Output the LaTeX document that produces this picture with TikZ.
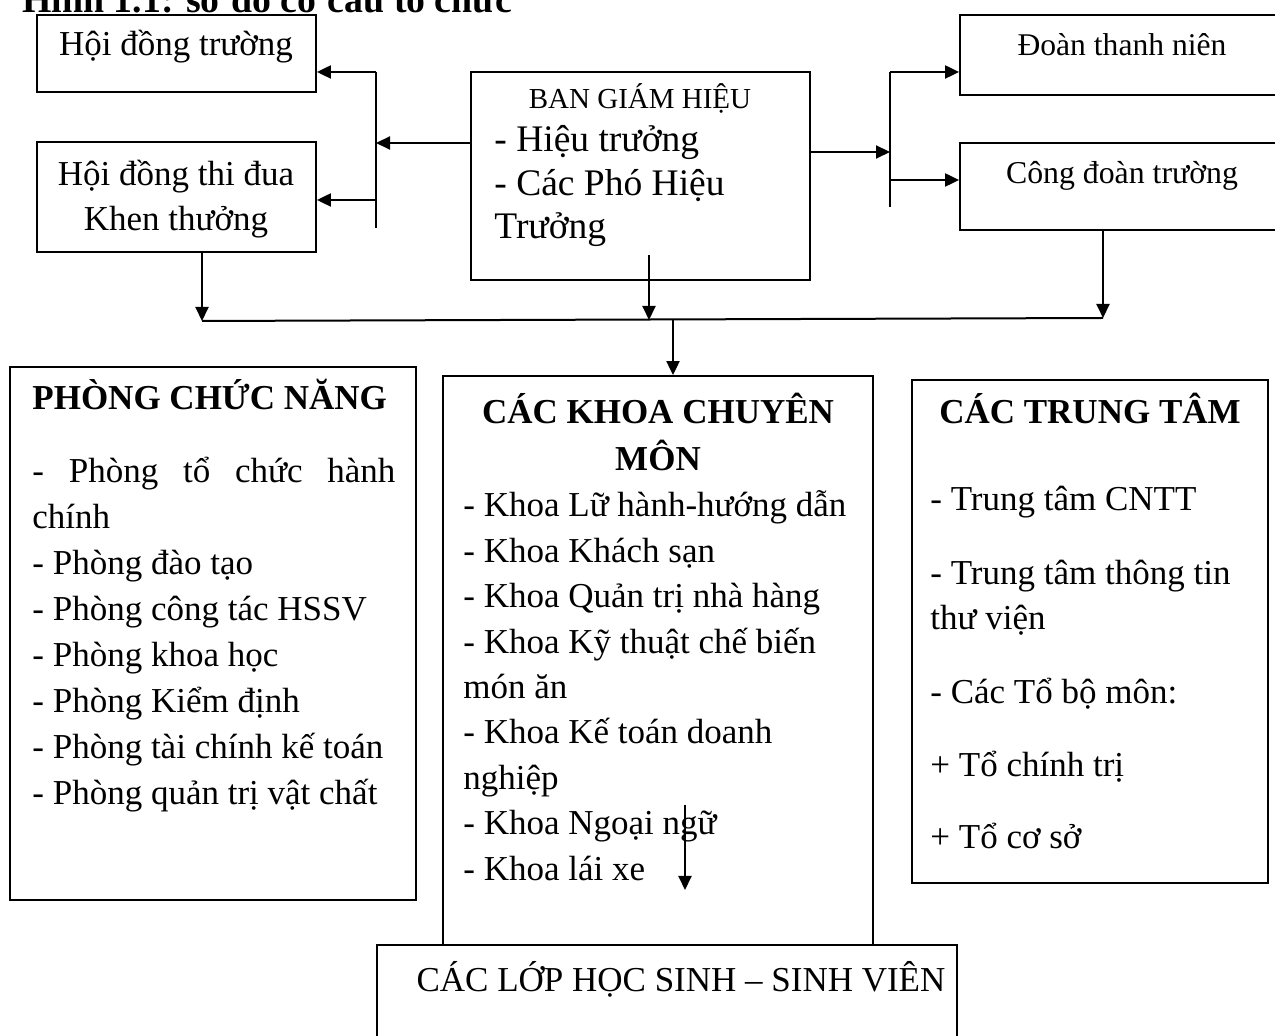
\documentclass[tikz,border=0pt]{standalone}
\usepackage{fontspec}
\setmainfont{Liberation Serif}
\usetikzlibrary{arrows.meta}

\begin{document}
\begin{tikzpicture}[
            x = 0.5pt, y = -0.5pt,
            box/.style = {draw, line width = 0.9pt, inner sep = 0pt},
            txt/.style = {anchor = base, inner sep = 0pt, font = \fontsize{17.5}{23}\selectfont},
            lst/.style = {anchor = base west, inner sep = 0pt, align = flush left, text width = #1,
                          font = \fontsize{17.5}{23}\selectfont},
            lst/.default = 180pt,
            head/.style = {txt, font = \fontsize{17.5}{23.5}\selectfont\bfseries},
            link/.style = {line width = 1pt},
            arr/.style = {link, -{Triangle[length = 7pt, width = 6.5pt]}}
            ]
            \useasboundingbox (0,0) rectangle (1275,1036);
            \node[anchor = base west, inner sep = 0pt, font = \fontsize{18.9}{22}\selectfont\bfseries]
                 (title) at (22,13) {Hình 1.1: sơ đồ cơ cấu tổ chức};

            % boxes
            \node[box, minimum width = 139.5pt, minimum height = 38.5pt] (hdt) at (176.5,53.5) {};
            \node[box, minimum width = 139.5pt, minimum height = 55pt] (hdtd) at (176.5,197) {};
            \node[box, minimum width = 169.5pt, minimum height = 104pt] (bgh) at (640.5,176) {};
            \node[box, minimum width = 165pt, minimum height = 40pt] (dtn) at (1125,55) {};
            \node[box, minimum width = 165pt, minimum height = 43.5pt] (cdt) at (1125,186.5) {};
            \node[box, minimum width = 203pt, minimum height = 266.5pt] (phong) at (213,633.5) {};
            \node[box, minimum width = 215pt, minimum height = 284.5pt] (khoa) at (658,660.5) {};
            \node[box, minimum width = 178pt, minimum height = 251.5pt] (trung) at (1090,631.5) {};
            \node[box, minimum width = 290pt, minimum height = 57.5pt] (lop) at (667,1002.5) {};

            % texts
            \node[txt] (hdt-t) at (176,56) {Hội đồng trường};
            \node[txt, align = flush center, text width = 130pt, font = \fontsize{17.5}{22.5}\selectfont]
                 (hdtd-t) at (176,186) {Hội đồng thi đua\\Khen thưởng};
            \node[txt, font = \fontsize{14.5}{17}\selectfont] (bgh-t) at (640,109) {BAN GIÁM HIỆU};
            \node[lst = 150pt, font = \fontsize{18.75}{21.75}\selectfont]
                 (bgh-l) at (494,152) {- Hiệu trưởng\\- Các Phó Hiệu\\Trưởng};
            \node[txt, font = \fontsize{15.8}{19}\selectfont] (dtn-t) at (1122,56) {Đoàn thanh niên};
            \node[txt, font = \fontsize{15.9}{19}\selectfont] (cdt-t) at (1122,184) {Công đoàn trường};

            \node[head, anchor = base west] (phong-h) at (32,410) {PHÒNG CHỨC NĂNG};
            \node[lst = 200pt] (phong-l) at (32,483)
                 {\hbox to 181.5pt{-\hfill Phòng\hfill tổ\hfill chức\hfill hành}\\chính\\- Phòng đào tạo\\
                  - Phòng công tác HSSV\\- Phòng khoa học\\- Phòng Kiểm định\\
                  - Phòng tài chính kế toán\\- Phòng quản trị vật chất};

            \node[head, align = flush center, text width = 205pt] (khoa-h) at (658,424) {CÁC KHOA CHUYÊN\\MÔN};
            \node[lst = 200pt, font = \fontsize{17.5}{22.7}\selectfont] (khoa-l) at (463,517)
                 {- Khoa Lữ hành-hướng dẫn\\- Khoa Khách sạn\\- Khoa Quản trị nhà hàng\\
                  - Khoa Kỹ thuật chế biến\\món ăn\\- Khoa Kế toán doanh\\nghiệp\\
                  - Khoa Ngoại ngữ\\- Khoa lái xe};

            \node[head] (trung-h) at (1090,424) {CÁC TRUNG TÂM};
            \node[lst = 165pt, font = \fontsize{17.5}{22.5}\selectfont] (trung-l) at (930,511)
                 {- Trung tâm CNTT\\[14.5pt]- Trung tâm thông tin\\thư viện\\[14.5pt]
                  - Các Tổ bộ môn:\\[14pt]+ Tổ chính trị\\[13.5pt]+ Tổ cơ sở};

            \node[txt] (lop-t) at (681,992) {CÁC LỚP HỌC SINH – SINH VIÊN};

            % left fork
            \coordinate (lt) at (376,72);
            \coordinate (lc) at (376,143);
            \coordinate (lm) at (376,200);
            \coordinate (lb) at (376,228);
            \draw[link] (lt) -- (lb);
            \draw[arr] (lc -| bgh.west) -- (lc);
            \draw[arr] (lt) -- (lt -| hdt.east);
            \draw[arr] (lm) -- (lm -| hdtd.east);

            % right fork
            \coordinate (rt) at (890,72);
            \coordinate (rc) at (890,152);
            \coordinate (rm) at (890,180);
            \coordinate (rb) at (890,207);
            \draw[link] (rt) -- (rb);
            \draw[arr] (rc -| bgh.east) -- (rc);
            \draw[arr] (rt) -- (rt -| dtn.west);
            \draw[arr] (rm) -- (rm -| cdt.west);

            % bus
            \coordinate (bl) at (202,321);
            \coordinate (bs) at (649,255);
            \coordinate (bm) at (649,320);
            \coordinate (bk) at (673,320);
            \coordinate (br) at (1103,318);
            \draw[link] (bl) -- (br);
            \draw[arr] (bl |- hdtd.south) -- (bl);
            \draw[arr] (bs) -- (bm);
            \draw[arr] (br |- cdt.south) -- (br);
            \draw[arr] (bk) -- (bk |- khoa.north);

            \coordinate (ka) at (685,805);
            \coordinate (kb) at (685,890);
            \draw[arr] (ka) -- (kb);
\end{tikzpicture}
\end{document}
